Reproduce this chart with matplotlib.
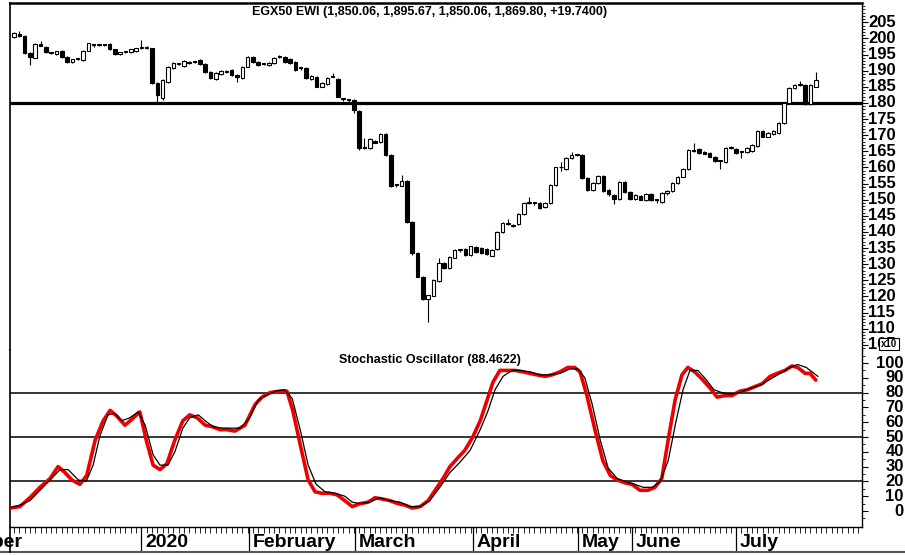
import numpy as np
import matplotlib.pyplot as plt
from matplotlib.lines import Line2D

plt.rcParams['font.family'] = ['Liberation Sans', 'DejaVu Sans']

# daily candles (EGX50 EWI), late Dec 2019 .. mid Jul 2020
opens = [2005, 2015, 2008, 1955, 1940, 1983, 1974, 1958, 1952, 1962, 1943, 1927, 1935, 1933, 1962, 1981,
         1979, 1980, 1983, 1967, 1952, 1957, 1958, 1961, 1970, 1972, 1970, 1862, 1815, 1865, 1908, 1920,
         1915, 1925, 1927, 1933, 1921, 1896, 1874, 1890, 1897, 1902, 1887, 1877, 1912, 1943, 1927, 1920,
         1918, 1924, 1942, 1943, 1937, 1927, 1908, 1908, 1874, 1881, 1850, 1859, 1882, 1874, 1812, 1808,
         1809, 1775, 1662, 1660, 1683, 1679, 1704, 1639, 1546, 1543, 1558, 1431, 1335, 1261, 1192, 1202,
         1248, 1304, 1288, 1320, 1346, 1347, 1329, 1353, 1350, 1347, 1326, 1347, 1400, 1425, 1421, 1425,
         1456, 1490, 1491, 1490, 1477, 1490, 1546, 1600, 1595, 1629, 1638, 1639, 1567, 1530, 1552, 1574,
         1530, 1515, 1502, 1555, 1524, 1502, 1512, 1499, 1518, 1500, 1493, 1521, 1527, 1552, 1571, 1595,
         1652, 1657, 1648, 1645, 1633, 1621, 1617, 1660, 1657, 1649, 1648, 1651, 1667, 1713, 1695, 1704,
         1707, 1738, 1800, 1846, 1855, 1856, 1797, 1850.06]
highs = [2020, 2023, 2010, 1957, 1985, 1992, 1976, 1959, 1962, 1964, 1945, 1937, 1940, 1964, 1987, 1982,
         1983, 1982, 1985, 1968, 1959, 1961, 1968, 1971, 1995, 1976, 1972, 1864, 1874, 1914, 1926, 1925,
         1932, 1929, 1930, 1935, 1923, 1898, 1895, 1901, 1901, 1904, 1889, 1914, 1945, 1946, 1929, 1924,
         1926, 1942, 1948, 1946, 1939, 1929, 1912, 1910, 1886, 1883, 1864, 1879, 1893, 1876, 1813, 1813,
         1812, 1777, 1692, 1690, 1685, 1706, 1706, 1641, 1549, 1577, 1560, 1433, 1337, 1263, 1206, 1253,
         1320, 1306, 1324, 1346, 1347, 1349, 1358, 1355, 1352, 1349, 1346, 1402, 1430, 1440, 1424, 1458,
         1492, 1508, 1492, 1492, 1492, 1548, 1603, 1617, 1631, 1648, 1641, 1641, 1569, 1554, 1576, 1578,
         1532, 1517, 1557, 1557, 1526, 1517, 1514, 1520, 1520, 1501, 1523, 1529, 1554, 1573, 1597, 1656,
         1676, 1659, 1650, 1647, 1635, 1622, 1663, 1666, 1659, 1650, 1663, 1672, 1715, 1715, 1709, 1715,
         1740, 1802, 1848, 1858, 1868, 1858, 1858, 1895.67]
lows = [2003, 2005, 1953, 1918, 1938, 1976, 1956, 1953, 1950, 1940, 1925, 1925, 1932, 1931, 1960, 1975,
        1976, 1977, 1965, 1950, 1950, 1954, 1956, 1959, 1968, 1968, 1860, 1803, 1809, 1863, 1906, 1917,
        1913, 1922, 1923, 1919, 1894, 1875, 1872, 1888, 1894, 1885, 1865, 1875, 1910, 1925, 1916, 1917,
        1916, 1922, 1940, 1925, 1922, 1900, 1903, 1875, 1872, 1848, 1848, 1857, 1879, 1817, 1805, 1804,
        1770, 1655, 1658, 1657, 1675, 1677, 1637, 1538, 1540, 1541, 1429, 1330, 1259, 1190, 1121, 1200,
        1246, 1286, 1286, 1318, 1338, 1327, 1327, 1336, 1333, 1330, 1324, 1345, 1398, 1421, 1415, 1423,
        1454, 1487, 1484, 1472, 1475, 1488, 1544, 1589, 1593, 1627, 1635, 1565, 1528, 1528, 1550, 1525,
        1512, 1487, 1500, 1522, 1500, 1500, 1498, 1497, 1497, 1491, 1491, 1515, 1525, 1550, 1569, 1593,
        1649, 1643, 1641, 1631, 1618, 1595, 1615, 1657, 1643, 1630, 1646, 1649, 1665, 1693, 1693, 1702,
        1705, 1736, 1798, 1844, 1852, 1795, 1795, 1850.06]
closes = [2017, 2008, 1955, 1943, 1983, 1978, 1958, 1954, 1961, 1942, 1927, 1936, 1937, 1962, 1985, 1980,
          1981, 1979, 1967, 1952, 1958, 1958, 1967, 1970, 1971, 1971, 1862, 1825, 1872, 1912, 1924, 1921,
          1930, 1926, 1926, 1921, 1896, 1877, 1893, 1899, 1898, 1887, 1880, 1912, 1943, 1927, 1918, 1921,
          1924, 1940, 1943, 1927, 1924, 1902, 1907, 1877, 1884, 1850, 1862, 1877, 1881, 1819, 1811, 1809,
          1778, 1660, 1661, 1688, 1677, 1704, 1639, 1543, 1545, 1558, 1431, 1335, 1261, 1192, 1204, 1251,
          1304, 1288, 1322, 1344, 1345, 1329, 1356, 1338, 1335, 1332, 1344, 1400, 1428, 1426, 1420, 1456,
          1490, 1491, 1490, 1474, 1490, 1546, 1601, 1601, 1629, 1639, 1639, 1567, 1530, 1552, 1574, 1527,
          1518, 1502, 1555, 1524, 1502, 1515, 1500, 1518, 1499, 1499, 1521, 1527, 1552, 1571, 1595, 1654,
          1653, 1645, 1643, 1633, 1620, 1620, 1661, 1661, 1645, 1648, 1661, 1670, 1713, 1695, 1707, 1713,
          1738, 1800, 1846, 1856, 1856, 1797, 1856, 1869.80]

# stochastic oscillator, read at day positions
k_days = [-0.8, 1.1, 3.0, 4.9, 6.8, 8.3, 9.6, 10.9, 12.4, 13.7, 15.3, 16.8, 18.1, 19.4, 20.9, 22.2,
          23.7, 24.9, 26.2, 27.5, 28.8, 30.3, 31.8, 33.1, 34.5, 36.0, 37.3, 38.8, 40.1, 41.6, 43.5, 45.4,
          46.7, 48.2, 50.1, 51.4, 52.5, 53.9, 55.4, 56.7, 58.0, 59.5, 60.8, 62.3, 63.7, 65.2, 66.7, 68.0,
          69.5, 70.8, 72.3, 73.6, 75.0, 76.5, 78.0, 79.3, 80.8, 82.1, 83.6, 84.9, 86.4, 87.8, 89.1, 90.2,
          91.5, 92.8, 94.4, 95.9, 97.2, 98.5, 100.0, 101.3, 102.8, 104.3, 105.6, 106.6, 107.9, 109.4, 110.9,
          112.3, 113.6, 115.1, 116.4, 117.9, 119.4, 120.7, 122.0, 123.2, 124.5, 125.8, 126.9, 128.2, 129.6,
          131.1, 132.4, 133.9, 135.2, 136.7, 138.2, 139.5, 140.9, 142.4, 143.7, 145.2, 146.5, 147.6, 149.0,
          149.9, 151.0]
k_vals = [2, 3, 9, 16, 22, 30, 26, 21, 18, 24, 48, 61, 68, 64, 58, 62,
          67, 48, 31, 28, 32, 48, 61, 65, 63, 58, 57, 55, 55, 54, 58, 72,
          77, 80, 81, 81, 68, 45, 21, 13, 12, 12, 11, 7, 3, 5, 6, 9,
          8, 7, 5, 4, 2, 3, 7, 14, 22, 30, 36, 41, 50, 61, 75, 87,
          95, 95, 95, 94, 93, 92, 91, 92, 94, 97, 97, 94, 78, 55, 34,
          24, 21, 19, 18, 14, 14, 16, 22, 48, 75, 92, 97, 94, 89,
          83, 77, 78, 78, 81, 82, 84, 86, 91, 93, 95, 98, 97, 93,
          93, 88.46]
d_days = [-0.8, 1.1, 3.0, 4.9, 6.8, 8.7, 10.2, 12.1, 13.6, 14.9, 16.2, 17.7, 19.0, 20.3, 21.8, 23.4,
          24.7, 26.2, 27.5, 29.0, 30.3, 31.8, 33.1, 34.7, 36.0, 37.5, 39.2, 40.7, 42.6, 44.4, 46.0, 47.5,
          49.2, 51.0, 52.4, 53.9, 55.4, 56.9, 58.6, 60.5, 62.3, 63.7, 65.2, 67.0, 68.9, 70.8, 72.7, 74.6,
          76.5, 78.3, 80.2, 82.1, 84.0, 85.9, 87.8, 89.3, 90.6, 92.1, 93.8, 95.3, 97.2, 99.1, 100.9, 102.8,
          104.7, 106.2, 107.5, 108.9, 110.4, 111.9, 113.6, 115.1, 116.9, 118.5, 120.2, 121.7, 123.2, 124.7,
          126.0, 127.3, 128.8, 130.3, 131.8, 133.3, 134.8, 136.7, 138.6, 140.5, 142.4, 144.3, 146.1, 147.6,
          149.2, 150.3, 151.4]
d_vals = [2, 4, 7, 14, 21, 28, 28, 21, 20, 31, 51, 65, 66, 61, 63, 67,
          58, 38, 31, 31, 40, 56, 63, 65, 61, 57, 56, 56, 56, 63, 75, 78,
          81, 82, 76, 55, 31, 18, 13, 12, 10, 6, 5, 6, 9, 7, 6, 3,
          3, 7, 16, 26, 33, 41, 55, 68, 82, 91, 95, 95, 94, 92, 92, 93,
          96, 96, 90, 72, 48, 29, 22, 20, 18, 16, 16, 20, 34, 61,
          82, 95, 95, 89, 82, 80, 79, 80, 83, 85, 89, 93, 97, 99,
          97, 94, 91]

months = ['December', '2020', 'February', 'March', 'April', 'May', 'June', 'July']
month_start = [-16.8, 23.9, 44.3, 64.2, 86.4, 106.2, 116.4, 136.0]

W, H = 905, 556
fig = plt.figure(figsize=(W / 100, H / 100), dpi=100)
left, right = 10 / W, 862 / W
ax1 = fig.add_axes([left, 1 - 350 / H, right - left, 347 / H])
ax2 = fig.add_axes([left, 1 - 527 / H, right - left, 177 / H])

x = np.arange(len(closes))
o, hi, lo, c = map(np.array, (opens, highs, lows, closes))
up = c >= o
bottom = np.minimum(o, c)
body = np.maximum(np.abs(c - o), 3)

ax1.vlines(x, lo, hi, color='black', lw=0.8, zorder=2)
ax1.bar(x[up], body[up], bottom=bottom[up], width=0.66, color='white',
        edgecolor='black', lw=0.8, zorder=3)
ax1.bar(x[~up], body[~up], bottom=bottom[~up], width=0.66, color='black',
        edgecolor='black', lw=0.8, zorder=3)
ax1.axhline(1800, color='black', lw=2.3, zorder=1)

xmin, xmax = -0.75, 159.7
ax1.set_xlim(xmin, xmax)
ax1.set_ylim(1034, 2110)

ax2.plot(k_days, k_vals, color='#ee0000', lw=2.6, zorder=3, solid_capstyle='round')
ax2.plot(d_days, d_vals, color='black', lw=0.9, zorder=4)
for lvl in (20, 50, 80):
    ax2.axhline(lvl, color='black', lw=1.1, zorder=1)
ax2.set_xlim(xmin, xmax)
ax2.set_ylim(-10.8, 108.8)

# spines / ticks
for ax in (ax1, ax2):
    ax.spines['left'].set_linewidth(1.2)
    ax.spines['right'].set_linewidth(1.0)
    ax.yaxis.tick_right()
    ax.tick_params(axis='y', which='both', direction='out', labelright=False, labelleft=False)
    ax.tick_params(axis='y', which='major', length=4, width=0.8)
    ax.tick_params(axis='y', which='minor', length=2, width=0.6)
ax1.spines['bottom'].set_visible(False)
ax1.spines['top'].set_linewidth(1.8)
ax2.spines['top'].set_visible(False)
ax1.set_xticks([])

ticks1 = np.arange(1050, 2051, 50)
ax1.set_yticks(ticks1)
ax1.set_yticks(np.arange(1040, 2101, 10), minor=True)
for t in ticks1:
    ax1.text(1.007, t, str(t // 10), transform=ax1.get_yaxis_transform(), ha='left',
             va='center', fontsize=12, fontweight='bold', clip_on=False)

ticks2 = np.arange(0, 101, 10)
ax2.set_yticks(ticks2)
ax2.set_yticks(np.arange(-5, 106, 5), minor=True)
for t in ticks2:
    ax2.text(1.049, t, str(t), transform=ax2.get_yaxis_transform(), ha='right',
             va='center', fontsize=12, fontweight='bold', clip_on=False)

ax2.set_xticks([])
ax2.set_xticks(np.arange(0, 160), minor=True)
ax2.tick_params(axis='x', which='minor', direction='out', length=4, width=0.6)
ax2.spines['bottom'].set_linewidth(1.0)

band = 25 / 177
ax2.vlines(month_start[1:], -band, 0, transform=ax2.get_xaxis_transform(),
           color='black', lw=0.9, clip_on=False)
for name, pos in zip(months, month_start):
    ax2.text(pos + 0.75, -0.09, name, transform=ax2.get_xaxis_transform(), ha='left',
             va='center', fontsize=14, fontweight='bold', clip_on=False)

fig.add_artist(Line2D([0, 1], [1 - 552 / H] * 2, color='#555555', lw=1.5))
fig.add_artist(Line2D([left, left], [1 - 552 / H, 1 - 527 / H], color='black', lw=1.2))

fig.text(429.5 / W, 1 - 12 / H, 'EGX50 EWI (1,850.06, 1,895.67, 1,850.06, 1,869.80, +19.7400)',
         ha='center', va='center', fontsize=9, fontweight='bold')
fig.text(430 / W, 1 - 360 / H, 'Stochastic Oscillator (88.4622)',
         ha='center', va='center', fontsize=9, fontweight='bold')
fig.text(889 / W, 1 - 344 / H, 'x10', ha='center', va='center', fontsize=7, fontweight='bold',
         bbox=dict(boxstyle='square,pad=0.15', fc='white', ec='black', lw=0.8))

fig.savefig('out.png', dpi=100)
